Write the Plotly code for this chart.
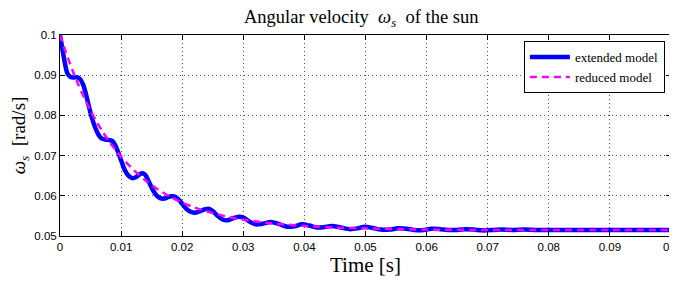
import plotly.graph_objects as go

# extended model
t_ext = [0.0, 0.0004, 0.0008, 0.0012, 0.0017, 0.0022, 0.0028, 0.0033, 0.0038, 0.0043,
         0.0048, 0.0053, 0.0058, 0.0063, 0.0068, 0.0074, 0.0080, 0.0086, 0.0091, 0.0096,
         0.0101, 0.0106, 0.0112, 0.0118, 0.0124, 0.0130, 0.0135, 0.0140, 0.0146, 0.0152,
         0.0158, 0.0164, 0.0170, 0.0176, 0.0182, 0.0188, 0.0194, 0.0200, 0.0206, 0.0213,
         0.0220, 0.0228, 0.0236, 0.0243, 0.0250, 0.0258, 0.0266, 0.0274, 0.0283, 0.0292,
         0.0300, 0.0310, 0.0320, 0.0330, 0.0345, 0.0358, 0.0372, 0.0384, 0.0396, 0.0408,
         0.0420, 0.0432, 0.0445, 0.0460, 0.0475, 0.0487, 0.0499, 0.0512, 0.0525, 0.0540,
         0.0553, 0.0567, 0.0580, 0.0595, 0.0608, 0.0622, 0.0635, 0.0650, 0.0663, 0.0677,
         0.0692, 0.0710, 0.0722, 0.0740, 0.0760, 0.0780, 0.0800, 0.0850, 0.0900, 0.0950, 0.1000]
w_ext = [0.1000, 0.0965, 0.0930, 0.0905, 0.0896, 0.0894, 0.0895, 0.0890, 0.0876, 0.0850,
         0.0818, 0.0790, 0.0768, 0.0752, 0.0743, 0.0740, 0.0739, 0.0736, 0.0724, 0.0705,
         0.0684, 0.0664, 0.0650, 0.0644, 0.0646, 0.0653, 0.0656, 0.0651, 0.0633, 0.0614,
         0.0601, 0.0594, 0.0593, 0.0596, 0.0599, 0.0598, 0.0591, 0.0580, 0.0569, 0.0561,
         0.0558, 0.0561, 0.0566, 0.0568, 0.0562, 0.0550, 0.0541, 0.0539, 0.0544, 0.0548,
         0.0546, 0.0536, 0.0529, 0.0530, 0.0535, 0.0530, 0.0523, 0.0524, 0.0529, 0.0526,
         0.0521, 0.0522, 0.0525, 0.0521, 0.0517, 0.0519, 0.0523, 0.0520, 0.0516, 0.0516,
         0.0519, 0.0518, 0.0515, 0.0515, 0.0518, 0.0517, 0.0515, 0.0515, 0.0517, 0.0516,
         0.0514, 0.0515, 0.0516, 0.0515, 0.0516, 0.0515, 0.0515, 0.0515, 0.0515, 0.0515, 0.0515]

# reduced model
t_red = [0.0, 0.001, 0.002, 0.003, 0.004, 0.005, 0.006, 0.007, 0.008, 0.009, 0.010,
         0.012, 0.014, 0.016, 0.018, 0.020, 0.022, 0.025, 0.028, 0.031, 0.035, 0.040,
         0.045, 0.050, 0.060, 0.070, 0.080, 0.090, 0.100]
w_red = [0.1000, 0.0955, 0.0914, 0.0876, 0.0843, 0.0812, 0.0784, 0.0759, 0.0736, 0.0716, 0.0697,
         0.0665, 0.0638, 0.0616, 0.0598, 0.0583, 0.0571, 0.0557, 0.0546, 0.0538, 0.0531, 0.0525,
         0.0521, 0.0519, 0.0516, 0.0515, 0.0515, 0.0515, 0.0515]

x_ticks = [0, 0.01, 0.02, 0.03, 0.04, 0.05, 0.06, 0.07, 0.08, 0.09, 0.1]
x_labels = ["0", "0.01", "0.02", "0.03", "0.04", "0.05", "0.06", "0.07", "0.08", "0.09", "0.1"]
y_ticks = [0.05, 0.06, 0.07, 0.08, 0.09, 0.1]
y_labels = ["0.05", "0.06", "0.07", "0.08", "0.09", "0.1"]

serif = "Liberation Serif, Times New Roman, serif"
sans = "Liberation Sans, Arial, sans-serif"

fig = go.Figure()
fig.add_trace(go.Scatter(x=t_ext, y=w_ext, mode="lines", name="extended model",
                         line=dict(color="#0000FF", width=4.5, shape="spline", smoothing=0.8)))
fig.add_trace(go.Scatter(x=t_red, y=w_red, mode="lines", name="reduced model",
                         line=dict(color="#FF00FF", width=2.5, dash="7px,5px", shape="spline", smoothing=0.8)))

axis_common = dict(showline=True, linecolor="black", linewidth=1, mirror="ticks",
                   ticks="inside", ticklen=5, tickcolor="black", showgrid=True,
                   gridcolor="#555555", griddash="1px,3px", gridwidth=1, zeroline=False,
                   automargin=False, ticklabeloverflow="allow",
                   tickfont=dict(family=sans, size=11.5, color="black"))

fig.update_xaxes(range=[0, 0.1], tickvals=x_ticks, ticktext=x_labels,
                 title=dict(text="Time [s]", font=dict(family=serif, size=21, color="black"), standoff=3),
                 **axis_common)
fig.update_yaxes(range=[0.05, 0.1], tickvals=y_ticks, ticktext=y_labels,
                 title=dict(text="<i>ω<sub>s</sub></i>  [rad/s]", font=dict(family=serif, size=19, color="black"), standoff=6),
                 **axis_common)

fig.update_layout(
    width=669, height=283,
    margin=dict(l=52, r=6, t=27, b=55),
    paper_bgcolor="white", plot_bgcolor="white",
    legend=dict(x=0.99, y=0.97, xanchor="right", yanchor="top", bgcolor="white",
                bordercolor="black", borderwidth=1,
                font=dict(family=serif, size=13, color="black"),
                tracegroupgap=0, itemwidth=40),
    showlegend=True,
)
fig.add_annotation(text="Angular velocity  <i>ω<sub>s</sub></i>  of the sun", xref="paper", yref="paper",
                   x=0.4926, y=1, xanchor="center", yanchor="middle", yshift=17, showarrow=False,
                   font=dict(family=serif, size=18.5, color="black"))

fig.write_html("out.html")
